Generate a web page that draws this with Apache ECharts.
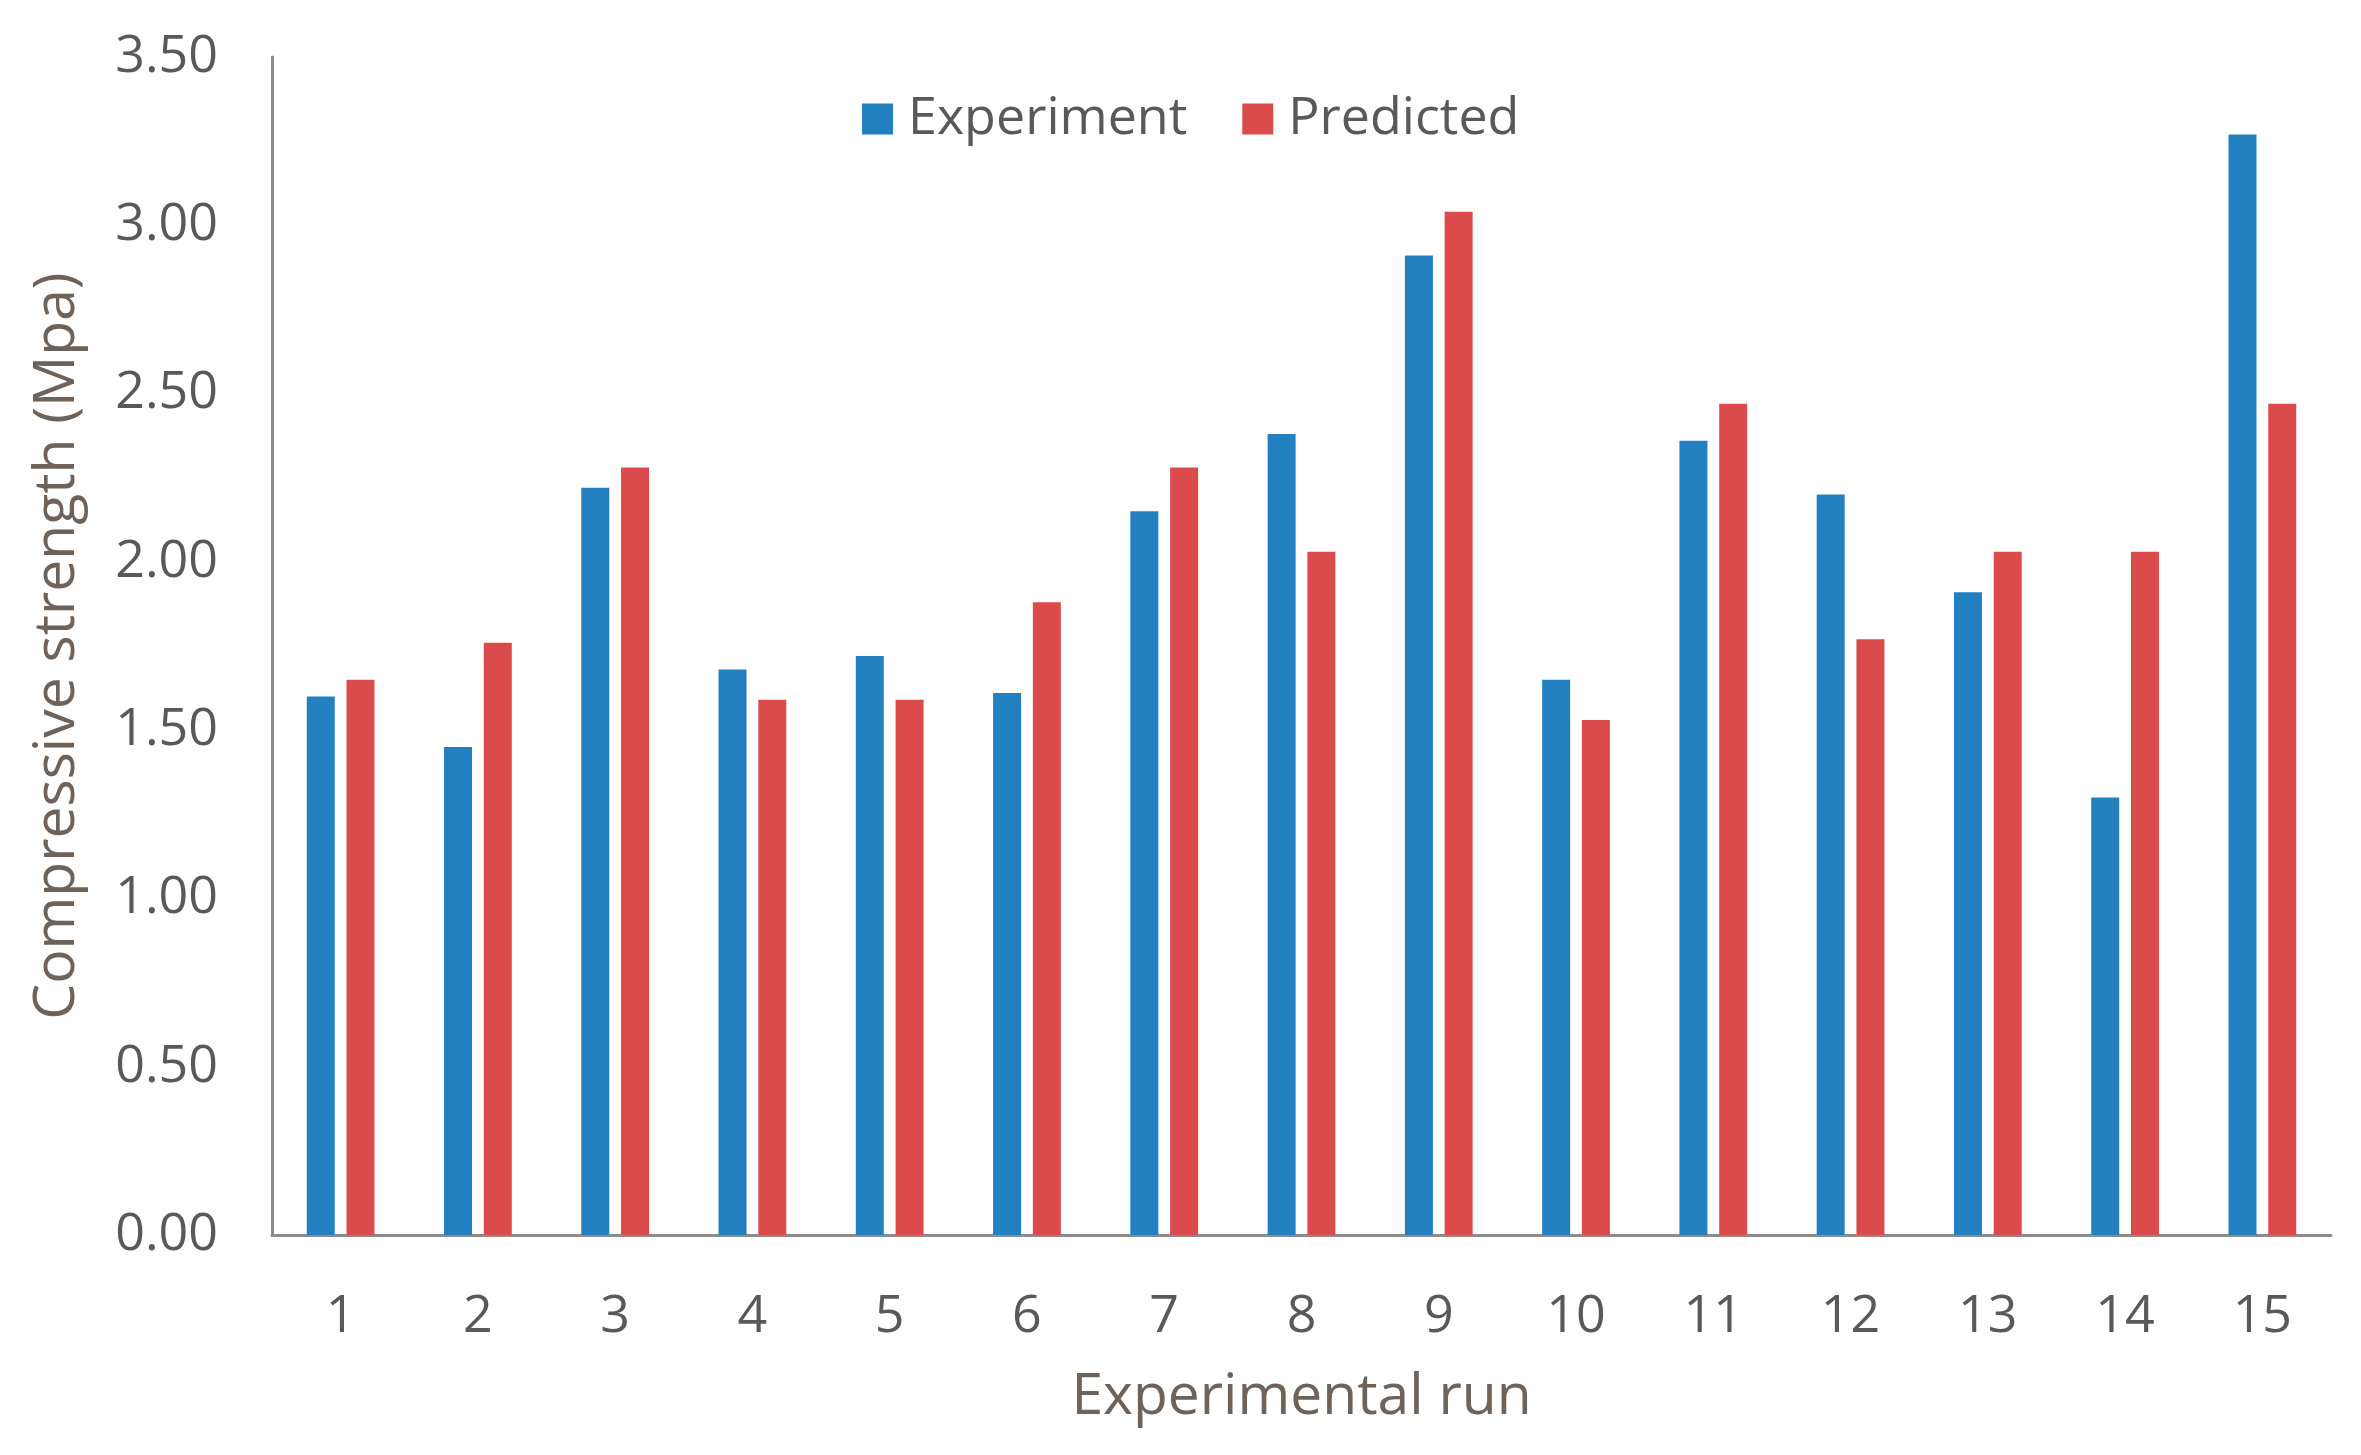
<!DOCTYPE html>
<html>
<head>
<meta charset="utf-8">
<script src="https://cdn.jsdelivr.net/npm/echarts@6/dist/echarts.min.js"></script>
<style>
html,body{margin:0;padding:0;background:#fff;}
#chart{width:2361px;height:1455px;}
</style>
</head>
<body>
<div id="chart"></div>
<script>
const categories = ['1','2','3','4','5','6','7','8','9','10','11','12','13','14','15'];
const experiment = [1.60,1.45,2.22,1.68,1.72,1.61,2.15,2.38,2.91,1.65,2.36,2.20,1.91,1.30,3.27];
const predicted  = [1.65,1.76,2.28,1.59,1.59,1.88,2.28,2.03,3.04,1.53,2.47,1.77,2.03,2.03,2.47];
const seriesNames = ['Experiment','Predicted'];
const yTicks = {min:0, max:3.5, interval:0.5};

const FONT = '"Open Sans", "Noto Sans", sans-serif';
const chart = echarts.init(document.getElementById('chart'), null, {renderer:'canvas'});
chart.setOption({
  animation:false,
  backgroundColor:'#ffffff',
  textStyle:{fontFamily:FONT},
  legend:{
    data:seriesNames,
    left:857, top:88,
    itemWidth:31, itemHeight:31,
    itemGap:55,
    icon:'rect',
    textStyle:{fontFamily:FONT, fontSize:52, color:'#595959', padding:[0,0,0,10]}
  },
  grid:{left:272, right:30, top:57, bottom:220, containLabel:false},
  xAxis:{
    type:'category',
    data:categories,
    name:'Experimental run',
    nameLocation:'middle',
    nameGap:134,
    nameTextStyle:{fontFamily:FONT, fontSize:57, color:'#6e6259'},
    axisLine:{lineStyle:{color:'#8c8c8c', width:3}},
    axisTick:{show:false},
    axisLabel:{fontFamily:FONT, fontSize:52, color:'#595959', margin:56}
  },
  yAxis:{
    type:'value',
    min:yTicks.min, max:yTicks.max, interval:yTicks.interval,
    name:'Compressive strength (Mpa)',
    nameLocation:'middle',
    nameGap:186,
    nameTextStyle:{fontFamily:FONT, fontSize:57, color:'#6e6259'},
    axisLine:{show:true, lineStyle:{color:'#8c8c8c', width:3}},
    axisTick:{show:false},
    splitLine:{show:false},
    axisLabel:{fontFamily:FONT, fontSize:52, color:'#595959', margin:54,
      formatter:v=>v.toFixed(2)}
  },
  series:[
    {name:seriesNames[0], type:'bar', data:experiment, barWidth:28, barGap:'42%',
     itemStyle:{color:'#2380c0'}},
    {name:seriesNames[1], type:'bar', data:predicted, barWidth:28,
     itemStyle:{color:'#dc4b4b'}}
  ]
});
</script>
</body>
</html>
